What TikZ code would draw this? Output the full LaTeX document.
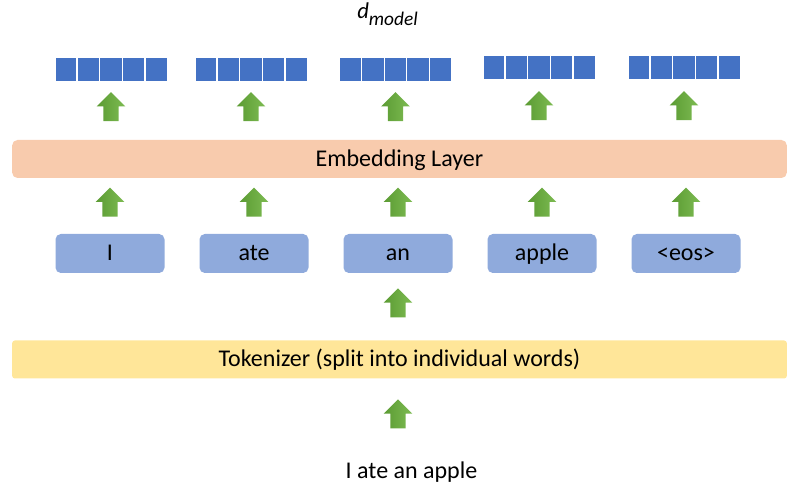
\documentclass[tikz,border=0pt]{standalone}
\usepackage{fontspec}
\setmainfont{Carlito}
\usetikzlibrary{shapes.arrows,calc}

\definecolor{vecblue}{HTML}{4472C4}
\definecolor{embpeach}{HTML}{F8CBAD}
\definecolor{tokblue}{HTML}{8FAADC}
\definecolor{tokyellow}{HTML}{FFE699}
\definecolor{arrlight}{HTML}{7DBB52}
\definecolor{arrdark}{HTML}{5B9B33}

\tikzset{
  vec/.style={fill=vecblue, draw=white, line width=0.7pt, minimum width=84pt,
    minimum height=18pt, inner sep=0pt},
  layer/.style={rounded corners=4pt, minimum width=581pt, minimum height=28.5pt,
    inner sep=0pt, text height=13.5pt, text depth=2.5pt, font=\fontsize{18}{20}\selectfont},
  word/.style={fill=tokblue, rounded corners=4pt, minimum width=81.75pt,
    minimum height=29.25pt, inner sep=0pt, text height=13.5pt, text depth=2.5pt,
    font=\fontsize{18}{20}\selectfont},
  uparrow/.style={single arrow, rotate=90, inner sep=5.6pt, minimum height=21.75pt,
    single arrow head extend=4.9pt, left color=arrdark, right color=arrlight,
    draw=none}
}

\begin{document}
\begin{tikzpicture}[x=0.75pt,y=-0.75pt]
  \useasboundingbox (0,0) rectangle (800,488);

  % output vectors
  \node[vec] (v1) at (111,69) {};
  \node[vec] (v2) at (251,69) {};
  \node[vec] (v3) at (395.5,69) {};
  \node[vec] (v4) at (539,67) {};
  \node[vec] (v5) at (684,67) {};
  \foreach \i in {1,...,5}
    \foreach \k in {1,...,4}
      \draw[white, line width=1pt] ($(v\i.north west)!\k/5!(v\i.north east)$) -- ($(v\i.south west)!\k/5!(v\i.south east)$);
  \node[font=\itshape\fontsize{17}{19}\selectfont, anchor=base west, inner sep=0pt] (dm) at (357,19)
    {d\raisebox{-5pt}{\fontsize{14.5}{16}\selectfont model}};

  % layers
  \node[layer, fill=embpeach] (emb) at (399.5,159) {Embedding Layer};
  \node[word] (t1) at (110,253.5) {I};
  \node[word] (t2) at (254,253.5) {ate};
  \node[word] (t3) at (398,253.5) {an};
  \node[word] (t4) at (542,253.5) {apple};
  \node[word] (t5) at (686,253.5) {<eos>};
  \node[layer, fill=tokyellow, rounded corners=2pt] (tkz) at (399.5,359.5)
    {Tokenizer (split into individual words)};
  \node[anchor=base, font=\fontsize{18}{20}\selectfont] (inp) at (411.5,478) {I ate an apple};

  % arrows
  \foreach \i in {1,...,5} {
    \node[uparrow] (a\i) at ($(v\i.south)!0.5!(emb.north -| v\i.south)$) {};
    \node[uparrow] (b\i) at ($(t\i.north)!0.5!(emb.south -| t\i.north)$) {};
  }
  \node[uparrow] (c1) at ($(t3.south)!0.5!(tkz.north -| t3.south)$) {};
  \node[uparrow] (c2) at ($(inp.north -| t3.south)!0.5!(tkz.south -| t3.south)$) {};
\end{tikzpicture}
\end{document}
